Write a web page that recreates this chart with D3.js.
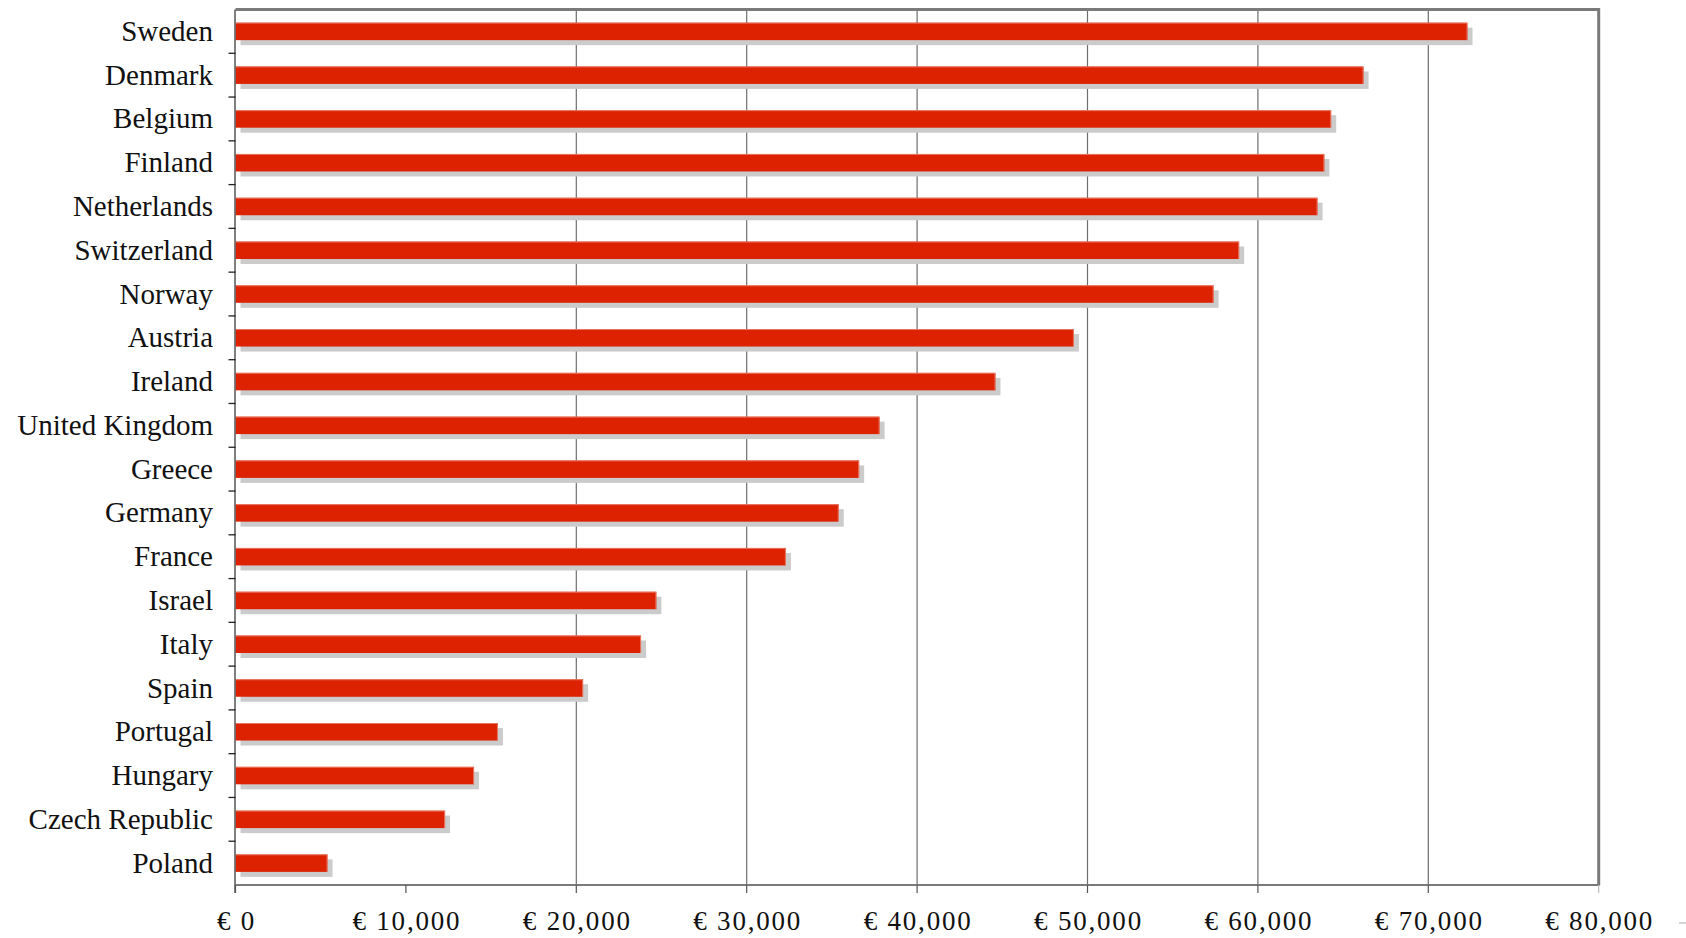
<!DOCTYPE html>
<html>
<head>
<meta charset="utf-8">
<script src="https://cdn.jsdelivr.net/npm/d3@7"></script>
<style>
  html, body { margin: 0; padding: 0; background: #ffffff; }
  svg { display: block; }
</style>
</head>
<body>
<svg id="chart" width="1686" height="938"></svg>
<script>
// Countries, top to bottom
const countries = [
  "Sweden", "Denmark", "Belgium", "Finland", "Netherlands", "Switzerland",
  "Norway", "Austria", "Ireland", "United Kingdom", "Greece", "Germany",
  "France", "Israel", "Italy", "Spain", "Portugal", "Hungary",
  "Czech Republic", "Poland"
];

// Value per country, in euro
const values = [
  72300, 66200, 64300, 63900, 63500, 58900,
  57400, 49200, 44600, 37800, 36600, 35400,
  32300, 24700, 23800, 20400, 15400, 14000,
  12300, 5400
];

// Horizontal axis ticks
const xTicks = [0, 10000, 20000, 30000, 40000, 50000, 60000, 70000, 80000];
const xTickLabels = ["€ 0", "€ 10,000", "€ 20,000", "€ 30,000", "€ 40,000",
                     "€ 50,000", "€ 60,000", "€ 70,000", "€ 80,000"];
// Values that get a vertical gridline
const gridValues = [20000, 30000, 40000, 50000, 60000, 70000];

const svg = d3.select("#chart");
const plot = { left: 235.5, right: 1598.7, top: 9.5, bottom: 885 };

const x = d3.scaleLinear().domain([0, 80000]).range([plot.left, plot.right]);
const y = d3.scaleBand().domain(countries).range([plot.top, plot.bottom])
  .paddingInner(0.6).paddingOuter(0.3);

const serif = "'Liberation Serif', 'DejaVu Serif', serif";

// vertical gridlines
svg.append("g")
  .selectAll("line")
  .data(gridValues)
  .join("line")
  .attr("x1", d => x(d)).attr("x2", d => x(d))
  .attr("y1", plot.top).attr("y2", plot.bottom)
  .attr("stroke", "#6e6e6e").attr("stroke-width", 1.2);

// bar shadows
svg.append("g")
  .selectAll("rect")
  .data(countries)
  .join("rect")
  .attr("x", x(0) + 5)
  .attr("y", d => y(d) + 5)
  .attr("width", (d, i) => x(values[i]) - x(0))
  .attr("height", y.bandwidth())
  .attr("fill", "#cbcbcb");

// bars
const bars = svg.append("g");
bars.selectAll("rect")
  .data(countries)
  .join("rect")
  .attr("x", x(0))
  .attr("y", d => y(d))
  .attr("width", (d, i) => x(values[i]) - x(0))
  .attr("height", y.bandwidth())
  .attr("fill", "#dc2200");
// thin light edge along the top and end of each bar
bars.selectAll("path")
  .data(countries)
  .join("path")
  .attr("d", (d, i) => `M${x(0)},${y(d) + 0.5}H${x(values[i]) - 0.5}V${y(d) + y.bandwidth()}`)
  .attr("fill", "none")
  .attr("stroke", "#ec8a78")
  .attr("stroke-width", 0.8);

// frame: top and right borders
svg.append("path")
  .attr("d", `M${plot.left},${plot.top}H${plot.right}V${plot.bottom}`)
  .attr("fill", "none").attr("stroke", "#7a7a7a").attr("stroke-width", 3);

// left (category) axis
const yAxis = svg.append("g");
yAxis.append("line")
  .attr("x1", plot.left - 0.5).attr("x2", plot.left - 0.5)
  .attr("y1", plot.top).attr("y2", plot.bottom + 8)
  .attr("stroke", "#555").attr("stroke-width", 1.5);
yAxis.selectAll("line.tick")
  .data(countries.slice(1))
  .join("line")
  .attr("class", "tick")
  .attr("x1", plot.left - 7).attr("x2", plot.left)
  .attr("y1", d => y(d) - y.step() * y.paddingInner() / 2)
  .attr("y2", d => y(d) - y.step() * y.paddingInner() / 2)
  .attr("stroke", "#222").attr("stroke-width", 1.3);
yAxis.selectAll("text")
  .data(countries)
  .join("text")
  .attr("x", 213)
  .attr("y", d => y(d) + y.bandwidth() / 2 + 9.5)
  .attr("text-anchor", "end")
  .attr("font-family", serif)
  .attr("font-size", 29)
  .attr("fill", "#111")
  .text(d => d);

// bottom (value) axis
const xAxis = svg.append("g");
xAxis.append("line")
  .attr("x1", plot.left - 1).attr("x2", plot.right + 1)
  .attr("y1", plot.bottom).attr("y2", plot.bottom)
  .attr("stroke", "#7a7a7a").attr("stroke-width", 2.2);
xAxis.selectAll("line.tick")
  .data(xTicks)
  .join("line")
  .attr("class", "tick")
  .attr("x1", d => x(d)).attr("x2", d => x(d))
  .attr("y1", plot.bottom).attr("y2", plot.bottom + 8)
  .attr("stroke", (d, i) => i === xTicks.length - 1 ? "#bbb" : "#555")
  .attr("stroke-width", 1.2);
xAxis.selectAll("text")
  .data(xTicks)
  .join("text")
  .attr("x", d => x(d) + 1)
  .attr("y", 930)
  .attr("text-anchor", "middle")
  .attr("font-family", serif)
  .attr("font-size", 27)
  .attr("letter-spacing", "1.8px")
  .attr("fill", "#111")
  .text((d, i) => xTickLabels[i]);

// small dash at the far right of the axis labels
svg.append("line")
  .attr("x1", 1679).attr("x2", 1686)
  .attr("y1", 923).attr("y2", 923)
  .attr("stroke", "#aaa").attr("stroke-width", 1);
</script>
</body>
</html>
